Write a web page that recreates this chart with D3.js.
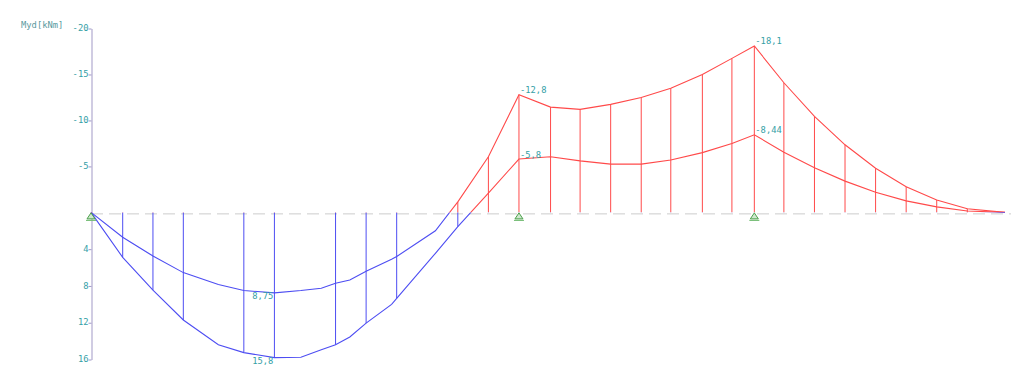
<!DOCTYPE html>
<html>
<meta charset="utf-8">
<script src="https://d3js.org/d3.v7.min.js"></script>
<style>
body { margin: 0; background: #fff; }
svg text { font-family: "DejaVu Sans Mono", monospace; font-size: 8.8px; }
</style>
<body>
<script>
// stations along the beam [m]
const stations = [0, 0.311, 0.608, 0.906, 1.25, 1.50, 1.80, 2.06, 2.26, 2.40, 2.54, 2.70, 2.95, 3.00, 3.38, 3.60, 3.90,
  4.20, 4.51, 4.80, 5.10, 5.40, 5.69, 6.00, 6.29, 6.51, 6.80, 7.10, 7.40, 7.70, 8.00, 8.30, 8.60, 8.97];
// envelope of Myd [kNm]
const myMax = [0, 4.89, 8.45, 11.7, 14.4, 15.25, 15.8, 15.75, 14.95, 14.4, 13.55, 12.05, 10.0, 9.35, 4.45, 1.55, -2.1,
  -5.8, -6.05, -5.6, -5.25, -5.25, -5.7, -6.5, -7.5, -8.44, -6.55, -4.85, -3.4, -2.2, -1.25, -0.6, -0.15, 0];
const myMin = [0, 2.7, 4.75, 6.55, 7.85, 8.5, 8.75, 8.5, 8.25, 7.7, 7.35, 6.4, 5.1, 4.8, 2.0, -1.15, -6.05,
  -12.8, -11.45, -11.2, -11.75, -12.5, -13.5, -15.0, -16.75, -18.1, -14.1, -10.45, -7.35, -4.8, -2.8, -1.35, -0.4, 0];
// stations with hatch lines
const hatchAt = [0.311, 0.608, 0.906, 1.50, 1.80, 2.40, 2.70, 3.00, 3.60, 3.90, 4.20, 4.51, 4.80, 5.10, 5.40, 5.69,
  6.00, 6.29, 6.51, 6.80, 7.10, 7.40, 7.70, 8.00, 8.30, 8.60];
// labelled extreme values
const labelAt = [1.80, 4.20, 6.51];
const supports = [0, 4.20, 6.51];
const yTicks = [-20, -15, -10, -5, 4, 8, 12, 16];

const width = 1024, height = 385;
const blue = '#4d4df2', red = '#ff4a4a', teal = '#35a0a6';

const x = d3.scaleLinear().domain([0, 8.97]).range([91, 1005]);
const y = d3.scaleLinear().domain([-20, 16]).range([28.5, 359.5]);

const svg = d3.select('body').append('svg')
  .attr('width', width)
  .attr('height', height);

const defs = svg.append('defs');
defs.append('clipPath').attr('id', 'neg')
  .append('rect').attr('x', 0).attr('y', 0).attr('width', width).attr('height', y(0));
defs.append('clipPath').attr('id', 'pos')
  .append('rect').attr('x', 0).attr('y', y(0)).attr('width', width).attr('height', height - y(0));

// zero line
svg.append('line')
  .attr('x1', x(0)).attr('x2', x(8.97) + 6)
  .attr('y1', y(0) + 1.5).attr('y2', y(0) + 1.5)
  .attr('stroke', '#cccccc')
  .attr('stroke-dasharray', '12,6');

// y axis
const yAxis = d3.axisLeft(y)
  .tickValues(yTicks)
  .tickSize(3)
  .tickSizeOuter(0)
  .tickPadding(0)
  .tickFormat(d => String(d));

const gy = svg.append('g')
  .attr('transform', 'translate(91.5,0)')
  .call(yAxis);
gy.select('.domain').attr('stroke', '#a199c6');
gy.selectAll('.tick line').attr('stroke', '#a199c6');
gy.selectAll('.tick text')
  .attr('fill', teal)
  .attr('dy', '0.25em')
  .style('font-family', '"DejaVu Sans Mono", monospace')
  .style('font-size', '8.8px');

svg.append('text')
  .attr('x', 21).attr('y', 28)
  .attr('fill', '#5a9a9e')
  .text('Myd[kNm]');

const valueAt = (arr, s) => arr[stations.findIndex(v => Math.abs(v - s) < 1e-6)];

const line = d3.line().x(d => x(d[0])).y(d => y(d[1]));
const curves = [stations.map((s, i) => [s, myMax[i]]), stations.map((s, i) => [s, myMin[i]])];

// draw everything twice: red for hogging (negative), blue for sagging (positive)
[['neg', red], ['pos', blue]].forEach(([clip, col]) => {
  const g = svg.append('g').attr('clip-path', `url(#${clip})`);
  g.selectAll('line.hatch').data(hatchAt)
    .enter().append('line')
    .attr('class', 'hatch')
    .attr('x1', d => x(d)).attr('x2', d => x(d))
    .attr('y1', d => y(Math.min(0, valueAt(myMax, d), valueAt(myMin, d))))
    .attr('y2', d => y(Math.max(0, valueAt(myMax, d), valueAt(myMin, d))))
    .attr('stroke', col)
    .attr('stroke-width', 1);
  g.selectAll('path.curve').data(curves)
    .enter().append('path')
    .attr('class', 'curve')
    .attr('d', line)
    .attr('fill', 'none')
    .attr('stroke', col)
    .attr('stroke-width', 1.1);
});

// value labels
const labels = [];
labelAt.forEach(s => {
  labels.push([s, valueAt(myMax, s)]);
  labels.push([s, valueAt(myMin, s)]);
});
svg.selectAll('text.val').data(labels)
  .enter().append('text')
  .attr('class', 'val')
  .attr('x', d => d[1] < 0 ? x(d[0]) + 1 : x(d[0]) - 1)
  .attr('y', d => d[1] < 0 ? y(d[1]) - 1.5 : y(d[1]) + 6)
  .attr('text-anchor', d => d[1] < 0 ? 'start' : 'end')
  .attr('fill', teal)
  .text(d => String(d[1]).replace('.', ','));

// supports
const sup = svg.selectAll('g.support').data(supports)
  .enter().append('g')
  .attr('class', 'support')
  .attr('transform', d => `translate(${x(d)},${y(0)})`);
sup.append('path')
  .attr('d', 'M0,0.5 L-4,6.5 L4,6.5 Z')
  .attr('fill', '#cfe8cf')
  .attr('stroke', '#4aa04a')
  .attr('stroke-width', 1);
sup.append('line')
  .attr('x1', -5).attr('x2', 5)
  .attr('y1', 8).attr('y2', 8)
  .attr('stroke', '#7cc07c')
  .attr('stroke-width', 1.2);
</script>
</body>
</html>
